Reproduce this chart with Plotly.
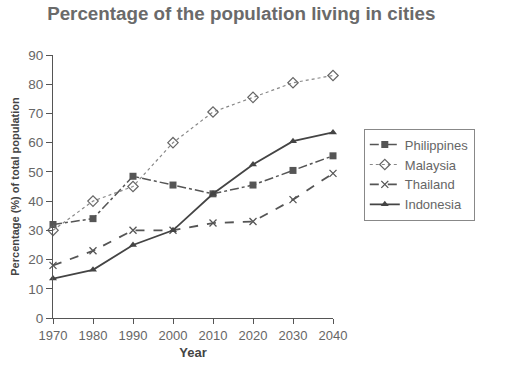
import plotly.graph_objects as go

years = [1970, 1980, 1990, 2000, 2010, 2020, 2030, 2040]
philippines = [32, 34, 48.5, 45.5, 42.5, 45.5, 50.5, 55.5]
malaysia = [30, 40, 45, 60, 70.5, 75.5, 80.5, 83]
thailand = [18, 23, 30, 30, 32.5, 33, 40.5, 49.5]
indonesia = [13.5, 16.5, 25, 30, 42.5, 52.5, 60.5, 63.5]
y_ticks = list(range(0, 91, 10))

fig = go.Figure()
fig.add_trace(go.Scatter(x=years, y=philippines, name="Philippines", mode="lines+markers",
                         line=dict(color="#555", width=1.5, dash="dashdot"),
                         marker=dict(symbol="square", size=7, color="#555"), cliponaxis=False))
fig.add_trace(go.Scatter(x=years, y=malaysia, name="Malaysia", mode="lines+markers",
                         line=dict(color="#888", width=1.2, dash="dot"),
                         marker=dict(symbol="diamond-open", size=8, color="#666", line=dict(width=1.2)), cliponaxis=False))
fig.add_trace(go.Scatter(x=years, y=thailand, name="Thailand", mode="lines+markers",
                         line=dict(color="#555", width=1.8, dash="dash"),
                         marker=dict(symbol="x-thin", size=7, color="#555", line=dict(width=1.3, color="#555")), cliponaxis=False))
fig.add_trace(go.Scatter(x=years, y=indonesia, name="Indonesia", mode="lines+markers",
                         line=dict(color="#444", width=1.8),
                         marker=dict(symbol="triangle-up", size=7, color="#444"), cliponaxis=False))

fig.update_layout(
    width=510, height=377,
    margin=dict(l=53, r=177, t=55, b=59),
    paper_bgcolor="white", plot_bgcolor="white",
    font=dict(family="Liberation Sans, Arial, sans-serif", color="#666", size=13),
    title=dict(text="<b>Percentage of the population living in cities</b>",
               x=0.473, xanchor="center", y=0.9655, yanchor="middle",
               font=dict(size=18.8, color="#6a6a6a")),
    showlegend=True,
    legend=dict(x=1.11, xanchor="left", y=0.72, yanchor="top",
                bordercolor="#888", borderwidth=1, bgcolor="white",
                font=dict(size=13, color="#666"), tracegroupgap=0,
                itemwidth=30),
    xaxis=dict(range=[1970, 2040], tickmode="array", tickvals=years,
               showline=True, linecolor="#555", linewidth=1,
               ticks="outside", ticklen=5, tickcolor="#555",
               showgrid=False, zeroline=False,
               title=dict(text="<b>Year</b>", font=dict(size=13, color="#444"), standoff=6)),
    yaxis=dict(range=[0, 90], tickmode="array", tickvals=y_ticks,
               showline=True, linecolor="#555", linewidth=1,
               ticks="outside", ticklen=6, tickcolor="#555",
               showgrid=False, zeroline=False,
               tickfont=dict(size=13.5),
               title=dict(text="<b>Percentage (%) of total population</b>", font=dict(size=11, color="#444"), standoff=6)),
)

fig.write_html("out.html", config={"displayModeBar": False},
               post_script="document.body.style.margin='0';")
